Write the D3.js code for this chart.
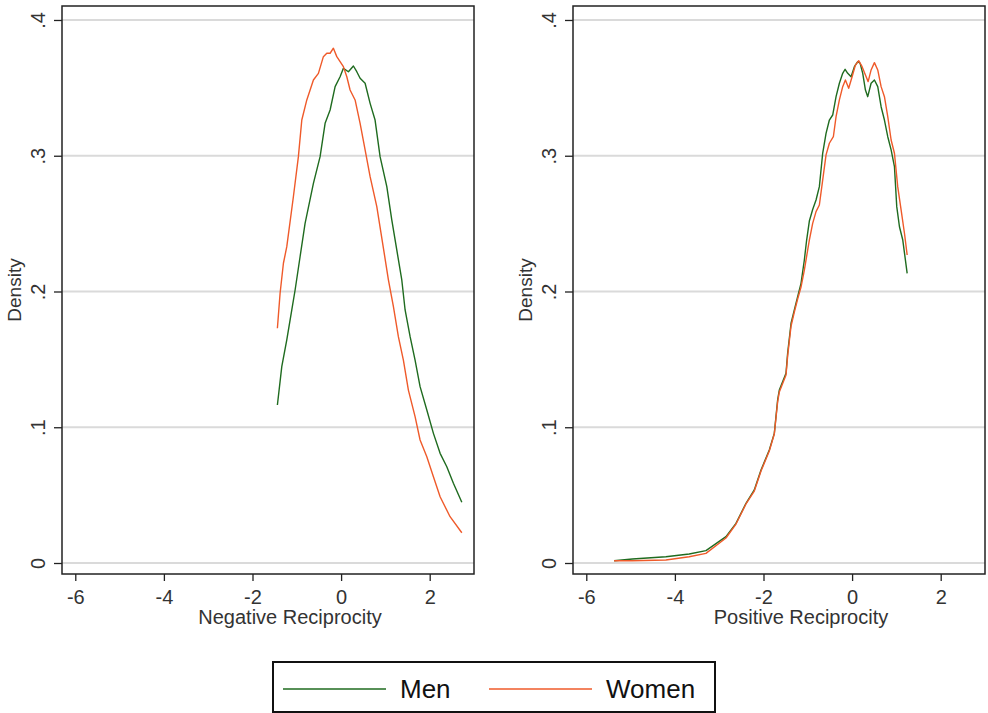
<!DOCTYPE html>
<html><head><meta charset="utf-8">
<script src="https://cdn.jsdelivr.net/npm/d3@7"></script>
<style>body{margin:0;background:#fff}svg{display:block}text{font-family:Arial,"Liberation Sans",sans-serif}</style>
</head><body>
<script>
// ---- data ----
const xTicks = [-6, -4, -2, 0, 2];
const yTicks = [0, 0.1, 0.2, 0.3, 0.4];
const yTickLabels = ["0", ".1", ".2", ".3", ".4"];
const seriesNames = ["Men", "Women"];
const panelTitles = ["Negative Reciprocity", "Positive Reciprocity"];

const negMenX = [-1.438,-1.339,-1.226,-1.113,-1.038,-0.926,-0.813,-0.625,-0.474,-0.361,-0.248,-0.135,-0.023,0.052,0.165,0.278,0.354,0.429,0.542,0.655,0.767,0.880,1.032,1.144,1.257,1.370,1.445,1.558,1.670,1.783,1.935,2.084,2.235,2.386,2.535,2.725];
const negMenY = [0.1164,0.1446,0.1643,0.1864,0.2011,0.2256,0.2502,0.2797,0.2993,0.3239,0.3337,0.3509,0.3582,0.3644,0.3619,0.3661,0.3619,0.3571,0.3534,0.3386,0.3263,0.2993,0.2772,0.2527,0.2306,0.2085,0.1864,0.1667,0.1495,0.1299,0.1127,0.0955,0.0808,0.0709,0.0587,0.0447];
const negWomenX = [-1.438,-1.377,-1.302,-1.226,-1.077,-0.964,-0.887,-0.774,-0.625,-0.512,-0.400,-0.323,-0.248,-0.174,-0.097,0.052,0.129,0.203,0.316,0.429,0.542,0.655,0.806,0.955,1.068,1.181,1.293,1.406,1.519,1.670,1.783,1.935,2.084,2.235,2.460,2.725];
const negWomenY = [0.1729,0.1987,0.2208,0.2330,0.2698,0.2993,0.3263,0.3411,0.3558,0.3607,0.3730,0.3755,0.3755,0.3792,0.3730,0.3656,0.3582,0.3484,0.3411,0.3239,0.3043,0.2846,0.2625,0.2320,0.2085,0.1888,0.1667,0.1495,0.1274,0.1078,0.0906,0.0783,0.0636,0.0488,0.0341,0.0223];

const posMenX = [-5.372,-4.958,-4.203,-3.677,-3.299,-2.847,-2.621,-2.395,-2.208,-2.056,-1.869,-1.756,-1.681,-1.643,-1.492,-1.455,-1.378,-1.304,-1.229,-1.153,-1.078,-1.026,-0.965,-0.890,-0.814,-0.739,-0.664,-0.588,-0.513,-0.438,-0.362,-0.287,-0.212,-0.158,-0.099,-0.023,0.052,0.127,0.181,0.240,0.301,0.353,0.429,0.504,0.579,0.655,0.730,0.805,0.881,0.956,1.008,1.069,1.144,1.243];
const posMenY = [0.0017,0.0029,0.0046,0.0066,0.0091,0.0194,0.0292,0.0440,0.0538,0.0685,0.0832,0.0955,0.1201,0.1274,0.1397,0.1545,0.1766,0.1864,0.1962,0.2060,0.2232,0.2379,0.2519,0.2604,0.2674,0.2772,0.3018,0.3165,0.3263,0.3300,0.3435,0.3534,0.3607,0.3637,0.3607,0.3582,0.3656,0.3693,0.3681,0.3607,0.3484,0.3435,0.3534,0.3558,0.3509,0.3361,0.3263,0.3140,0.3043,0.2919,0.2625,0.2477,0.2379,0.2134];
const posWomenX = [-5.372,-4.958,-4.203,-3.677,-3.299,-2.847,-2.621,-2.395,-2.208,-2.056,-1.869,-1.756,-1.681,-1.643,-1.492,-1.455,-1.378,-1.304,-1.229,-1.153,-1.078,-0.965,-0.890,-0.814,-0.739,-0.664,-0.588,-0.513,-0.423,-0.362,-0.287,-0.212,-0.151,-0.077,0.000,0.075,0.149,0.226,0.301,0.362,0.429,0.504,0.579,0.655,0.730,0.805,0.881,0.956,1.030,1.107,1.182,1.243];
const posWomenY = [0.0017,0.0017,0.0022,0.0046,0.0071,0.0184,0.0287,0.0435,0.0530,0.0678,0.0825,0.0950,0.1186,0.1260,0.1385,0.1525,0.1746,0.1849,0.1945,0.2033,0.2158,0.2379,0.2502,0.2588,0.2637,0.2821,0.3006,0.3092,0.3140,0.3288,0.3411,0.3509,0.3558,0.3497,0.3582,0.3668,0.3700,0.3656,0.3595,0.3546,0.3632,0.3686,0.3632,0.3509,0.3435,0.3288,0.3116,0.3018,0.2772,0.2600,0.2429,0.2269];

// ---- drawing ----
const W = 988, H = 713;
const colors = {Men: "#1f6b1f", Women: "#ef5a2a"};
const svg = d3.select("body").append("svg").attr("width", W).attr("height", H);

const panels = [
  {left: 62, right: 474, title: panelTitles[0],
   series: [{name: "Men", xs: negMenX, ys: negMenY}, {name: "Women", xs: negWomenX, ys: negWomenY}]},
  {left: 573, right: 985, title: panelTitles[1],
   series: [{name: "Men", xs: posMenX, ys: posMenY}, {name: "Women", xs: posWomenX, ys: posWomenY}]}
];
const plotTop = 6, plotBottom = 574;

panels.forEach(p => {
  const x = d3.scaleLinear().domain([-6.3, 3.0]).range([p.left, p.right]);
  const y = d3.scaleLinear().domain([-0.0081, 0.4103]).range([plotBottom, plotTop]);
  const g = svg.append("g");

  // gridlines
  g.selectAll("line.grid").data(yTicks).join("line")
    .attr("x1", p.left).attr("x2", p.right)
    .attr("y1", d => y(d)).attr("y2", d => y(d))
    .attr("stroke", "#dadada").attr("stroke-width", 2);

  // curves
  const line = d3.line().x(d => x(d[0])).y(d => y(d[1]));
  p.series.forEach(s => {
    const pts = s.xs.map((v, i) => [v, s.ys[i]]);
    g.append("path").attr("d", line(pts)).attr("fill", "none")
      .attr("stroke", colors[s.name]).attr("stroke-width", 1.4)
      .attr("stroke-linejoin", "round");
  });

  // frame
  g.append("rect").attr("x", p.left).attr("y", plotTop)
    .attr("width", p.right - p.left).attr("height", plotBottom - plotTop)
    .attr("fill", "none").attr("stroke", "#222").attr("stroke-width", 1.5);

  // x axis
  const xa = g.append("g").attr("transform", `translate(0,${plotBottom})`)
    .call(d3.axisBottom(x).tickValues(xTicks).tickSize(7).tickPadding(9).tickFormat(d3.format("d")));
  xa.select(".domain").remove();
  xa.selectAll(".tick line").attr("stroke", "#222").attr("stroke-width", 1.3);
  xa.selectAll("text").attr("font-size", 20).attr("fill", "#333")
    .text(d => (d < 0 ? "-" + Math.abs(d) : String(d)));

  // y axis
  const ya = g.append("g").attr("transform", `translate(${p.left},0)`)
    .call(d3.axisLeft(y).tickValues(yTicks).tickSize(8).tickFormat((d, i) => yTickLabels[i]));
  ya.select(".domain").remove();
  ya.selectAll(".tick line").attr("stroke", "#222").attr("stroke-width", 1.3);
  ya.selectAll(".tick text").attr("font-size", 20).attr("fill", "#333")
    .attr("text-anchor", "middle").attr("x", null)
    .attr("transform", "translate(-24,0) rotate(-90)").attr("dy", "0.35em");

  // titles
  g.append("text").attr("x", (p.left + p.right) / 2 + 22).attr("y", 624)
    .attr("text-anchor", "middle").attr("font-size", 20).attr("fill", "#333").text(p.title);
  g.append("text").attr("transform", `translate(${p.left - 41},${(plotTop + plotBottom) / 2}) rotate(-90)`)
    .attr("text-anchor", "middle").attr("font-size", 19).attr("fill", "#333").text("Density");
});

// legend
const lg = svg.append("g");
lg.append("rect").attr("x", 273).attr("y", 662).attr("width", 442).attr("height", 50)
  .attr("fill", "#fff").attr("stroke", "#111").attr("stroke-width", 2);
const legendItems = [{name: seriesNames[0], x1: 283, x2: 386, tx: 400}, {name: seriesNames[1], x1: 489, x2: 592, tx: 606}];
legendItems.forEach(it => {
  lg.append("line").attr("x1", it.x1).attr("x2", it.x2).attr("y1", 689).attr("y2", 689)
    .attr("stroke", colors[it.name]).attr("stroke-width", 1.6);
  lg.append("text").attr("x", it.tx).attr("y", 698).attr("font-size", 26).attr("fill", "#111").text(it.name);
});
</script>
</body></html>
